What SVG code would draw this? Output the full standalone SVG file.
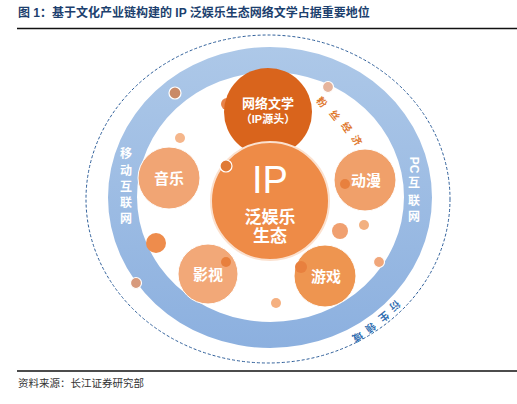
<svg xmlns="http://www.w3.org/2000/svg" width="517" height="404" viewBox="0 0 517 404">
<defs>
<linearGradient id="band" x1="0" y1="0" x2="0" y2="1">
<stop offset="0" stop-color="#adc8e8"/>
<stop offset="1" stop-color="#8cb0df"/>
</linearGradient>
</defs>
<style>
.t{font-family:"Liberation Sans","Noto Sans CJK SC",sans-serif}
.title{font-size:12px;font-weight:bold;fill:#1c3f6e}
.foot{font-size:10.5px;fill:#333}
.w{fill:#fff;font-weight:bold;text-anchor:middle}
.dot{stroke:#fff;stroke-width:1.2}
.arc1{font-size:10px;font-weight:bold;fill:#e0782e;text-anchor:middle}
.arc2{font-size:10px;font-weight:bold;fill:#2f6db0;text-anchor:middle}
</style>
<rect width="517" height="404" fill="#fff"/>
<text class="t title" x="18" y="17">图 1：基于文化产业链构建的 IP 泛娱乐生态网络文学占据重要地位</text>
<line x1="17" y1="28.5" x2="517" y2="28.5" stroke="#111" stroke-width="1.3"/>
<line x1="17" y1="371" x2="517" y2="371" stroke="#111" stroke-width="1.3"/>
<text class="t foot" x="18" y="387">资料来源：长江证券研究部</text>

<g id="outer-ring">
<ellipse cx="268" cy="199" rx="182" ry="164" fill="none" stroke="#2f5f9a" stroke-width="1" stroke-dasharray="3 2"/>
<path d="M108,197.5 a162,150.5 0 1,0 324,0 a162,150.5 0 1,0 -324,0 Z M137,197 a133.5,125 0 1,0 267,0 a133.5,125 0 1,0 -267,0 Z" fill="url(#band)" fill-rule="evenodd"/>
</g>

<g id="labels-ring">
<g class="t w" font-size="12">
<text x="126" y="158">移</text>
<text x="126" y="175">动</text>
<text x="126" y="191">互</text>
<text x="126" y="207">联</text>
<text x="126" y="223">网</text>
</g>
<g class="t w" font-size="12">
<text transform="translate(414,165) rotate(90)" y="4">PC</text>
<text x="414" y="187">互</text>
<text x="414" y="205">联</text>
<text x="414" y="221">网</text>
</g>
<g class="t arc1">
<text transform="translate(322,102) rotate(50)" y="4">粉</text>
<text transform="translate(335,115) rotate(52)" y="4">丝</text>
<text transform="translate(347,127) rotate(55)" y="4">经</text>
<text transform="translate(357,140) rotate(58)" y="4">济</text>
</g>
<g class="t arc2">
<text transform="translate(395,306) rotate(140)" y="4">衍</text>
<text transform="translate(384,317) rotate(142)" y="4">生</text>
<text transform="translate(371,328) rotate(145)" y="4">领</text>
<text transform="translate(358,337) rotate(148)" y="4">域</text>
</g>
</g>

<g id="dots">
<circle class="dot" cx="175" cy="93" r="6" fill="#c98a68"/>
<circle cx="180" cy="138" r="5" fill="#f5b68b"/>
<circle class="dot" cx="328" cy="87" r="5.5" fill="#e6b49c"/>
<circle cx="156" cy="243" r="10" fill="#ee8c4c"/>
<circle class="dot" cx="136" cy="283" r="5.5" fill="#d79a7c"/>
<circle cx="340" cy="231" r="8" fill="#f0a070"/>
<circle cx="364" cy="225" r="5" fill="#f2b080"/>
<circle class="dot" cx="379" cy="262" r="5.5" fill="#f0a67a"/>
<circle cx="276" cy="303" r="5" fill="#f5b080"/>
<circle cx="227" cy="104" r="6" fill="#e8834a"/>
</g>

<g id="node-wangluo">
<circle cx="268" cy="112" r="44" fill="#d9641c"/>
<text class="t w" x="268" y="108" font-size="13">网络文学</text>
<text class="t w" x="268" y="123" font-size="11">（IP源头）</text>
</g>

<g id="node-ip">
<circle cx="270" cy="201" r="59" fill="#ee8b47" stroke="#fbe1cf" stroke-width="2"/>
<text class="t" x="270" y="193" font-size="38" fill="#fff" text-anchor="middle">IP</text>
<text class="t w" x="270" y="223" font-size="17">泛娱乐</text>
<text class="t w" x="270" y="242" font-size="17">生态</text>
<circle class="dot" cx="226" cy="166" r="6" fill="#e07a35"/>
</g>

<g id="node-yinyue">
<circle cx="169" cy="178" r="31" fill="#f1a574" stroke="#fff" stroke-width="1"/>
<text class="t w" x="169" y="184" font-size="15">音乐</text>
</g>

<g id="node-dongman">
<circle cx="365" cy="180" r="31" fill="#f0a06a" stroke="#fff" stroke-width="1"/>
<circle cx="345" cy="184" r="5" fill="#e8803e"/>
<text class="t w" x="366" y="186" font-size="15">动漫</text>
</g>

<g id="node-yingshi">
<circle cx="208" cy="274" r="30" fill="#f2a878" stroke="#fff" stroke-width="1"/>
<circle cx="226" cy="262" r="5" fill="#e8803e"/>
<text class="t w" x="208" y="280" font-size="15">影视</text>
</g>

<g id="node-youxi">
<circle cx="325" cy="276" r="31" fill="#ee9550" stroke="#fff" stroke-width="1"/>
<circle cx="301" cy="267" r="6" fill="#e8803e"/>
<text class="t w" x="326" y="282" font-size="15">游戏</text>
</g>
</svg>
